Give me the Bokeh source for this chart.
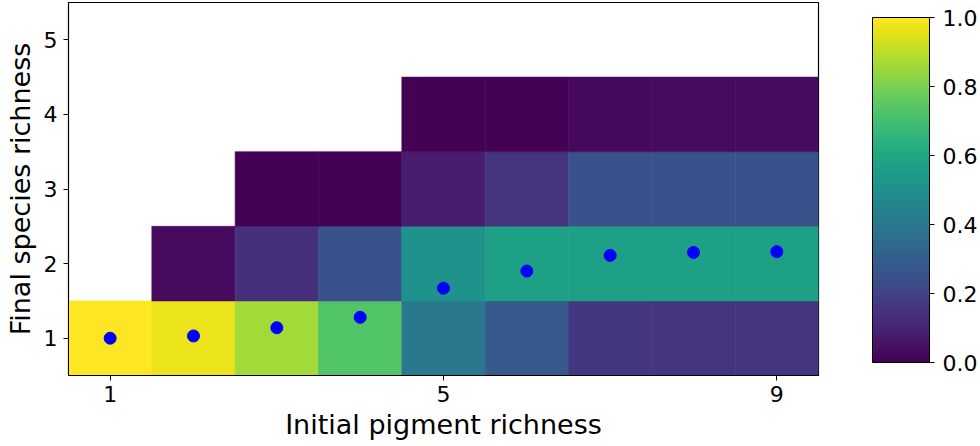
from bokeh.plotting import figure
from bokeh.models import (LinearColorMapper, ColorBar, FixedTicker, ColumnDataSource,
                          PrintfTickFormatter, Range1d)
from bokeh.palettes import Viridis256
from bokeh.transform import transform
from bokeh.embed import file_html
from bokeh.resources import INLINE

# ---- data ----
pigment_richness = [1, 2, 3, 4, 5, 6, 7, 8, 9]
frac_richness_1 = [1.00, 0.97, 0.86, 0.73, 0.40, 0.28, 0.16, 0.15, 0.15]
frac_richness_2 = [None, 0.03, 0.14, 0.25, 0.51, 0.57, 0.57, 0.57, 0.57]
frac_richness_3 = [None, None, 0.005, 0.005, 0.08, 0.15, 0.25, 0.25, 0.25]
frac_richness_4 = [None, None, None, None, 0.005, 0.005, 0.02, 0.03, 0.03]
mean_final_richness = [1.00, 1.03, 1.14, 1.28, 1.67, 1.90, 2.11, 2.15, 2.16]
x_ticks = [1, 5, 9]
y_ticks = [1, 2, 3, 4, 5]
cbar_ticks = [0.0, 0.2, 0.4, 0.6, 0.8, 1.0]

FONT = "DejaVu Sans"
TICK_FS = "22px"
LABEL_FS = "27px"

xs, ys, vs = [], [], []
for level, fr in zip([1, 2, 3, 4], [frac_richness_1, frac_richness_2, frac_richness_3, frac_richness_4]):
    for xp, v in zip(pigment_richness, fr):
        if v is not None:
            xs.append(xp); ys.append(level); vs.append(v)
cells = ColumnDataSource(dict(x=xs, y=ys, v=vs))
dots = ColumnDataSource(dict(x=pigment_richness, y=mean_final_richness))

mapper = LinearColorMapper(palette=Viridis256, low=0, high=1)

p = figure(width=980, height=446, output_backend="svg", toolbar_location=None,
           x_range=Range1d(0.5, 9.5), y_range=Range1d(0.5, 5.5),
           min_border_left=68, min_border_top=2, min_border_bottom=71, min_border_right=162)

p.rect(x="x", y="y", width=1, height=1, source=cells,
       fill_color=transform("v", mapper), line_color=transform("v", mapper), line_width=0.6)
p.scatter(x="x", y="y", source=dots, size=12, fill_color="#0000ff", line_color="#0000ff")

p.grid.visible = False
p.outline_line_color = "black"
p.outline_line_width = 1.2

for ax in (p.xaxis[0], p.yaxis[0]):
    ax.axis_line_color = "black"
    ax.major_tick_line_color = "black"
    ax.major_tick_out = 5
    ax.major_tick_in = 0
    ax.minor_tick_line_color = None
    ax.major_label_text_font = FONT
    ax.major_label_text_font_size = TICK_FS
    ax.major_label_text_color = "black"
    ax.axis_label_text_font = FONT
    ax.axis_label_text_font_size = LABEL_FS
    ax.axis_label_text_font_style = "normal"
    ax.axis_label_text_color = "black"

p.xaxis.ticker = FixedTicker(ticks=x_ticks)
p.yaxis.ticker = FixedTicker(ticks=y_ticks)
p.xaxis.axis_label = "Initial pigment richness"
p.yaxis.axis_label = "Final species richness"
p.xaxis.major_label_standoff = 5
p.yaxis.major_label_standoff = 6
p.xaxis.axis_label_standoff = 4
p.yaxis.axis_label_standoff = 5

cb = ColorBar(color_mapper=mapper, ticker=FixedTicker(ticks=cbar_ticks),
              formatter=PrintfTickFormatter(format="%.1f"),
              width=57, height=345, margin=0, padding=0,
              bar_line_color="black", major_tick_line_color="black",
              major_tick_in=0, major_tick_out=5, minor_tick_line_color=None,
              major_label_text_font=FONT, major_label_text_font_size=TICK_FS,
              major_label_text_color="black", label_standoff=8,
              background_fill_color=None, location=(54, 13))
p.add_layout(cb, "right")

open("out.html", "w").write(file_html(p, INLINE))
